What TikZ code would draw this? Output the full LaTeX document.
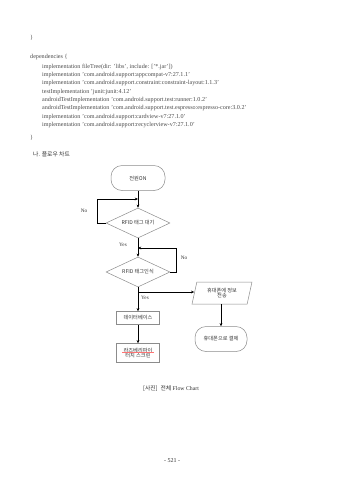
\documentclass[tikz,border=0pt]{standalone}
\usepackage{fontspec}
\setmainfont{Liberation Serif}
\newfontfamily\kr{Noto Sans CJK KR}
\usetikzlibrary{shapes.geometric,arrows.meta}
\begin{document}
\begin{tikzpicture}[x=1pt,y=-1pt,
  codeline/.style={anchor=west, inner sep=0pt, font=\fontsize{6.1}{7}\selectfont, text=black!70},
  shapeline/.style={draw=black!45, line width=0.5pt, font=\kr\fontsize{5.2}{6.2}\selectfont, align=center, inner sep=1pt, text=black!80},
  roundbox/.style={shapeline, rectangle, rounded corners=11pt, minimum width=54pt, minimum height=25pt},
  plainbox/.style={shapeline, rectangle, minimum width=43pt, minimum height=13pt},
  decision/.style={shapeline, diamond, aspect=2.13, inner sep=0pt, minimum width=64pt, minimum height=30pt},
  iobox/.style={shapeline, trapezium, trapezium left angle=75, trapezium right angle=105, trapezium stretches=true, minimum width=60pt, minimum height=22pt},
  arr/.style={draw=black, line width=0.8pt, -{Stealth[length=3.2pt,width=2.8pt]}},
  lbl/.style={font=\fontsize{5.2}{6}\selectfont, inner sep=0pt, text=black!80},
  txt/.style={inner sep=0pt, text=black!80}
]
\useasboundingbox[fill=white] (0,0) rectangle (339,480);

% code listing
\node[codeline] (c0) at (30,38) {\}};
\node[codeline] (c1) at (30,57) {dependencies \{};
\node[codeline] (c2) at (42,66.9) {implementation fileTree(dir: 'libs', include: ['*.jar'])};
\node[codeline] (c3) at (42,75.2) {implementation 'com.android.support:appcompat-v7:27.1.1'};
\node[codeline] (c4) at (42,83.5) {implementation 'com.android.support.constraint:constraint-layout:1.1.3'};
\node[codeline] (c5) at (42,91.8) {testImplementation 'junit:junit:4.12'};
\node[codeline] (c6) at (42,100.1) {androidTestImplementation 'com.android.support.test:runner:1.0.2'};
\node[codeline] (c7) at (42,108.4) {androidTestImplementation 'com.android.support.test.espresso:espresso-core:3.0.2'};
\node[codeline] (c8) at (42,116.7) {implementation 'com.android.support:cardview-v7:27.1.0'};
\node[codeline] (c9) at (42,125.0) {implementation 'com.android.support:recyclerview-v7:27.1.0'};
\node[codeline] (c10) at (30,138) {\}};

% heading
\node[txt, anchor=west, font=\kr\fontsize{5.8}{7}\selectfont] (head) at (33,154) {나. 플로우 차트};

% flowchart
\node[roundbox] (start) at (138,178) {전원ON};
\node[decision] (d1) at (138,223) {RFID 태그 대기};
\node[decision] (d2) at (138,272) {RFID 태그인식};
\node[plainbox] (db) at (138,318) {데이터베이스};
\node[plainbox, minimum height=19pt, inner sep=0.5pt] (rpi) at (138,353) {라즈베리파이\\[-1.5pt]터치 스크린};
\node[iobox] (io) at (222,293) {휴대폰에 정보\\[-1.5pt]전송};
\node[roundbox, minimum width=52pt] (pay) at (221,339) {휴대폰으로 결제};

\coordinate (n1) at (97,199);
\coordinate (n2) at (176,248);
\coordinate (br) at (138,292);

\draw[arr] (start.south) -- (d1.north);
\draw[arr] (d1.west) -| (n1) -- (n1 -| d1.north);
\draw[arr] (d1.south) -- (d2.north);
\draw[arr] (d2.east) -| (n2) -- (n2 -| d2.north);
\draw[arr] (d2.south) -- (db.north);
\draw[arr] (br) -- (br -| io.west);
\draw[arr] (db.south) -- (rpi.north);
\draw[arr] (io.south -| pay.north) -- (pay.north);

% red spell-check underline under the first line
\draw[red!55, line width=0.35pt] ([xshift=-16pt,yshift=0.4pt]rpi.center) -- ([xshift=16pt,yshift=0.4pt]rpi.center);

\node[lbl] (no1) at (84,211) {No};
\node[lbl] (yes1) at (123,245) {Yes};
\node[lbl] (no2) at (184,258) {No};
\node[lbl] (yes2) at (145,298) {Yes};

% caption and page number
\node[txt, font=\fontsize{5.8}{7}\selectfont] (cap) at (171,389) {{\kr[사진]}\ \ {\kr 전체} Flow Chart};
\node[txt, font=\fontsize{6}{7}\selectfont] (page) at (172,461) {- 521 -};
\end{tikzpicture}
\end{document}
